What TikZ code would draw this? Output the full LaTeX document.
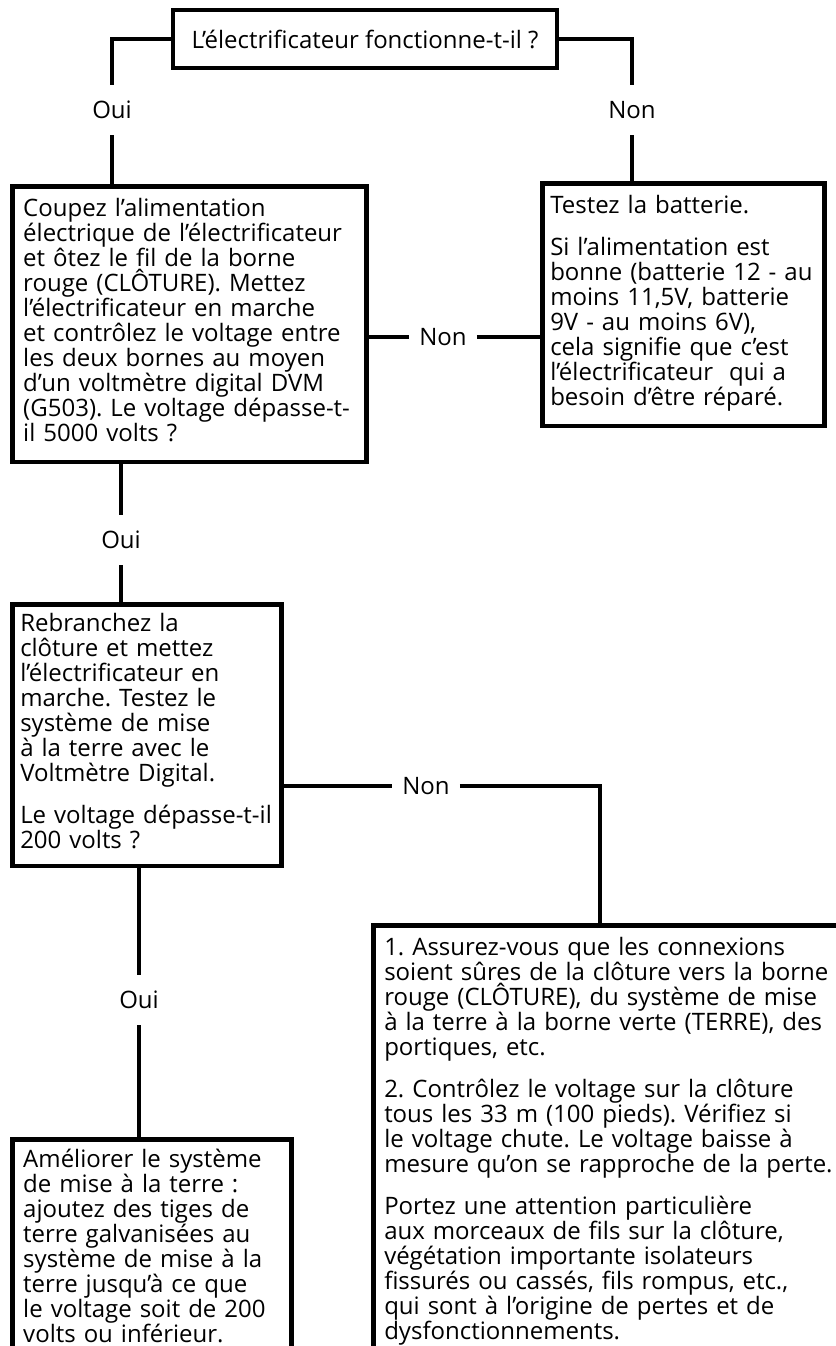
\documentclass[tikz,border=0pt]{standalone}
\usepackage{fontspec}
\setmainfont{Open Sans}
\frenchspacing
\begin{document}
\begin{tikzpicture}[x=1pt,y=-1pt,font=\fontsize{24}{25}\selectfont,
  titre/.style={draw,line width=4.5pt,minimum width=384pt,minimum height=58pt,inner sep=0pt},
  boite/.style={draw,line width=4.5pt,anchor=north west,align=left,inner xsep=11pt,inner ysep=13pt,text height=17pt},
  rep/.style={inner xsep=10pt,inner ysep=0pt,minimum height=50pt},
  fil/.style={line width=4pt}]
\useasboundingbox (0,0) rectangle (835,1346);
% question de depart
\node[titre] (q) at (365,39) {L’électrificateur fonctionne-t-il ?};
\node[rep] (oui1) at (112,110) {Oui};
\node[rep] (non1) at (632,110) {Non};
\node[boite,text width=332pt] (coupe) at (10,184) {Coupez l’alimentation\\électrique de l’électrificateur\\et ôtez le fil de la borne\\rouge (CLÔTURE). Mettez\\l’électrificateur en marche\\et contrôlez le voltage entre\\les deux bornes au moyen\\d’un voltmètre digital DVM\\(G503). Le voltage dépasse-t-\\il 5000 volts ?\strut};
\node[boite,inner xsep=8pt,text width=266pt] (batt) at (540,181) {Testez la batterie.\\[17pt]Si l’alimentation est\\bonne (batterie 12 - au\\moins 11,5V, batterie\\9V - au moins 6V),\\cela signifie que c’est\\l’électrificateur\ \ qui a\\besoin d’être réparé.\strut};
\node[rep] (non2) at (443,337) {Non};
% deuxieme essai
\node[rep] (oui2) at (121,540) {Oui};
\node[boite,inner xsep=8pt,inner ysep=10pt,text width=253pt] (rebr) at (10,602) {Rebranchez la\\clôture et mettez\\l’électrificateur en\\marche. Testez le\\système de mise\\à la terre avec le\\Voltmètre Digital.\\[17pt]Le voltage dépasse-t-il\\200 volts ?\strut};
\node[rep] (non3) at (426,786) {Non};
\coordinate (coude) at (600,786);
\node[rep] (oui3) at (139,1000) {Oui};
\node[boite,inner ysep=11pt,text width=257pt] (amel) at (10,1137) {Améliorer le système\\de mise à la terre :\\ajoutez des tiges de\\terre galvanisées au\\système de mise à la\\terre jusqu’à ce que\\le voltage soit de 200\\volts ou inférieur.\strut};
\node[boite,text width=470pt] (verif) at (371,923) {1. Assurez-vous que les connexions\\soient sûres de la clôture vers la borne\\rouge (CLÔTURE), du système de mise\\à la terre à la borne verte (TERRE), des\\portiques, etc.\\[17pt]2. Contrôlez le voltage sur la clôture\\tous les 33 m (100 pieds). Vérifiez si\\le voltage chute. Le voltage baisse à\\mesure qu’on se rapproche de la perte.\\[17pt]Portez une attention particulière\\aux morceaux de fils sur la clôture,\\végétation importante isolateurs\\fissurés ou cassés, fils rompus, etc.,\\qui sont à l’origine de pertes et de\\dysfonctionnements.\strut};
% liaisons
\draw[fil] (q.west) -| (oui1.north);
\draw[fil] (oui1.south) -- (oui1.south |- coupe.north);
\draw[fil] (q.east) -| (non1.north);
\draw[fil] (non1.south) -- (non1.south |- batt.north);
\draw[fil] (non2.west -| coupe.east) -- (non2.west);
\draw[fil] (non2.east) -- (non2.east -| batt.west);
\draw[fil] (oui2.north |- coupe.south) -- (oui2.north);
\draw[fil] (oui2.south) -- (oui2.south |- rebr.north);
\draw[fil] (non3.west -| rebr.east) -- (non3.west);
\draw[fil] (non3.east) -- (coude) -- (coude |- verif.north);
\draw[fil] (oui3.north |- rebr.south) -- (oui3.north);
\draw[fil] (oui3.south) -- (oui3.south |- amel.north);
\end{tikzpicture}
\end{document}
